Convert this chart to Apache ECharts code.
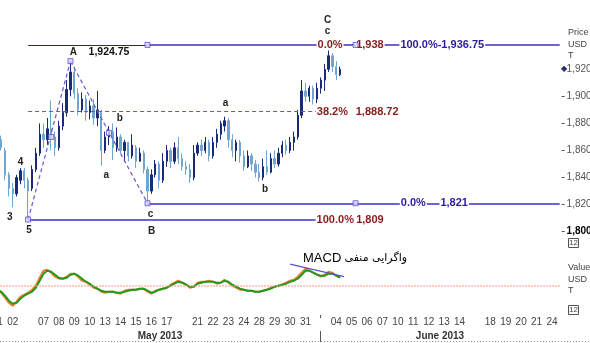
<!DOCTYPE html>
<html><head><meta charset="utf-8">
<script src="https://cdn.jsdelivr.net/npm/echarts@6/dist/echarts.min.js"></script>
<style>html,body{margin:0;padding:0;background:#fff}#c{width:590px;height:343px}</style>
</head><body><div id="c"></div>
<script>
// ---- data ----
const dayLabels = ['01','02','','07','08','09','10','13','14','15','16','17','','21','22','23','24','28','29','30','31','','04','05','06','07','10','11','12','13','14','','18','19','20','21','24'];
// [open, close, low, high]
const ohlc = [
[1871,1868,1866,1873],[1868,1862,1860,1871],[1860,1842,1838,1862],[1842,1832,1826,1844],
[1832,1828,1818,1836],[1828,1840,1826,1842],[1838,1845,1835,1847],[1845,1838,1832,1847],
[1838,1830,1809,1840],[1832,1846,1830,1849],[1846,1858,1844,1862],[1858,1872,1856,1880],
[1872,1868,1862,1880],[1868,1876,1864,1884],[1876,1870,1860,1897],[1870,1862,1856,1874],
[1862,1878,1860,1882],[1878,1888,1875,1895],[1888,1905,1885,1912],[1905,1918,1900,1926],
[1918,1902,1898,1922],[1902,1890,1886,1906],[1890,1898,1888,1903],[1898,1888,1882,1901],
[1888,1893,1883,1897],[1893,1884,1879,1898],[1884,1890,1878,1904],[1888,1860,1849,1890],
[1860,1870,1858,1874],[1870,1874,1864,1878],[1874,1862,1853,1880],[1862,1870,1859,1877],
[1870,1860,1858,1872],[1860,1866,1852,1868],[1866,1856,1852,1866],[1856,1864,1854,1872],
[1862,1852,1847,1864],[1852,1858,1852,1862],[1858,1846,1843,1860],[1846,1830,1821,1848],
[1830,1842,1828,1846],[1842,1850,1840,1853],[1850,1838,1832,1852],[1838,1852,1836,1858],
[1852,1860,1848,1864],[1860,1852,1847,1862],[1852,1862,1850,1866],[1862,1854,1850,1870],
[1854,1848,1845,1858],[1848,1846,1842,1852],[1846,1840,1836,1850],[1840,1858,1838,1864],
[1858,1864,1856,1866],[1864,1860,1856,1868],[1860,1866,1858,1870],[1866,1856,1852,1868],
[1856,1866,1854,1870],[1866,1872,1862,1876],[1872,1880,1868,1882],[1878,1882,1874,1885],
[1882,1868,1862,1884],[1868,1860,1855,1872],[1860,1866,1852,1868],[1866,1856,1851,1868],
[1856,1848,1845,1860],[1848,1856,1847,1860],[1856,1850,1845,1858],[1850,1844,1840,1853],
[1844,1840,1837,1850],[1840,1848,1838,1854],[1848,1844,1842,1860],[1844,1854,1843,1858],
[1854,1850,1847,1860],[1850,1858,1848,1862],[1858,1864,1855,1867],[1864,1860,1857,1868],
[1860,1866,1858,1870],[1866,1870,1860,1874],[1870,1886,1868,1890],[1886,1904,1884,1912],
[1904,1900,1896,1910],[1900,1906,1896,1908],[1906,1898,1894,1908],[1898,1906,1895,1910],
[1906,1912,1902,1914],[1912,1920,1904,1924],[1920,1930,1918,1935],[1930,1922,1918,1932],
[1922,1916,1912,1926],[1916,1920,1915,1922]
];
const macd = [-5,-7,-12,-17,-20,-16,-11,-9,-7,-4,0,8,15,16,13,9,7,7,9,12,12,9,5,4,1,-2,-3,-6,-7,-6,-6,-7,-8,-5,-4,-4,-4,-3,-3,-6,-8,-5,-4,-3,-2,1,3,5,3,1,-2,-1,3,4,4,5,4,2,3,6,3,0,-2,-4,-4,-5,-5,-6,-6,-5,-4,-2,-1,0,1,3,5,6,9,13,17,15,13,11,9,11,14,13,10,8];
const signal = [-4,-6,-10,-15,-18,-17,-13,-10,-8,-6,-2,5,12,15,14,11,8,7,8,11,12,10,7,4,2,-1,-3,-5,-6,-6,-6,-7,-7,-6,-5,-4,-4,-3,-3,-5,-7,-6,-4,-3,-2,0,2,4,3,1,-1,-1,2,3,4,4,4,3,3,5,4,1,-1,-3,-4,-5,-5,-6,-6,-5,-4,-3,-1,0,1,2,4,5,7,11,15,15,13,11,10,10,12,12,10,8];
const priceTicks = [1800,1820,1840,1860,1880,1900,1920];
const fibTop = 1938, fib382 = 1888.72, fibC = 1821, fib5 = 1809, peakA = 1926;
const handleData = [[8,1809],[14,1870],[19,1926],[29,1873],[39,1821],[39,1938],[93,1938],[93,1821]];
const divergence = [[76,21.5],[90,9]];

// ---- build ----
const N = 147;
const categories = [];
for (let i = 0; i < N; i++) categories.push(i % 4 === 0 ? (dayLabels[i / 4] || '') : '');
const FONT = 'Liberation Sans, Arial, sans-serif';
const fmt = v => v.toLocaleString('en-US');
const PURPLE = '#6d62d6', DRED = '#8b1a1a', DBLUE = '#2a1ca0';

function seg(a, b, style) { return [{coord: a, lineStyle: style}, {coord: b}]; }
function txt(name, coord, off, color, extra) {
  return {name, coord, label: Object.assign({offset: off, color, fontSize: 11, fontWeight: 'bold', fontFamily: FONT}, extra || {})};
}
const solid2 = {color: PURPLE, width: 2, type: 'solid'};
const dashed = {color: '#6458d8', width: 1.2, type: [4, 3]};

const markLines = [
  seg([8, fibTop], [39, fibTop], {color: '#2a2a60', width: 1, type: 'solid'}),
  seg([39, fibTop], [146, fibTop], solid2),
  seg([8, fib382], [83, fib382], dashed),
  seg([39, fibC], [146, fibC], solid2),
  seg([8, fib5], [83, fib5], solid2),
  seg([8, fib5], [19, peakA], dashed),
  seg([19, peakA], [39, fibC], dashed)
];
const bg = {backgroundColor: '#fff', padding: [0, 1]};
const markPoints = [
  txt('1,924.75', [29, fibTop], [0, 7], '#111', {fontSize: 10.5}),
  txt('0.0%', [86, fibTop], [1.5, 0], DRED, bg),
  txt('1,938', [97, fibTop], [-1, 0], DRED, bg),
  txt('100.0%-1,936.75', [115, fibTop], [2, 0], DBLUE, bg),
  txt('38.2%', [87, fib382], [0, 0], DRED, bg),
  txt('1,888.72', [99, fib382], [-1.5, 0], DRED, bg),
  txt('0.0%', [108, fibC], [0, 0], DBLUE, bg),
  txt('1,821', [119, fibC], [-1.5, 0], DBLUE, bg),
  txt('100.0%', [88, fib5], [-1, 0], DRED, bg),
  txt('1,809', [97, fib5], [-1, 0], DRED, bg),
  txt('3', [4, ohlc[4][2]], [-3, 10], '#222', {fontSize: 10}),
  txt('4', [6, ohlc[6][3]], [0, -6], '#222', {fontSize: 10}),
  txt('5', [8, ohlc[8][2]], [1, 11], '#222', {fontSize: 10}),
  txt('A', [19, ohlc[19][3]], [3, -9], '#222', {fontSize: 10}),
  txt('a', [27, ohlc[27][2]], [5, 10], '#222', {fontSize: 10}),
  txt('b', [31, ohlc[31][3]], [3, -9], '#222', {fontSize: 10}),
  txt('c', [39, ohlc[39][2]], [3, 11], '#222', {fontSize: 10}),
  txt('B', [39, ohlc[39][2]], [4, 28], '#222', {fontSize: 10}),
  txt('a', [59, ohlc[59][3]], [1, -13], '#222', {fontSize: 10}),
  txt('b', [69, ohlc[69][2]], [2, 9], '#222', {fontSize: 10}),
  txt('C', [86, ohlc[86][3]], [-1, -29], '#222', {fontSize: 10}),
  txt('c', [86, ohlc[86][3]], [-1, -18], '#222', {fontSize: 10})
];

const chart = echarts.init(document.getElementById('c'));
const gridBase = {left: -4.63, width: N * 3.852, containLabel: false, outerBoundsMode: 'none'};
chart.setOption({
  animation: false,
  backgroundColor: '#fff',
  grid: [
    Object.assign({top: 1.6, height: 230.1}, gridBase),
    Object.assign({top: 249.7, height: 62}, gridBase)
  ],
  xAxis: [
    {type: 'category', gridIndex: 0, data: categories, boundaryGap: true,
     axisLine: {show: false}, axisTick: {show: false}, axisLabel: {show: false}, splitLine: {show: false}},
    {type: 'category', gridIndex: 1, data: categories, boundaryGap: true,
     axisLine: {show: false}, axisTick: {show: false}, splitLine: {show: false},
     axisLabel: {interval: 0, fontSize: 10, color: '#444', margin: 6, fontFamily: FONT}}
  ],
  yAxis: [
    {type: 'value', gridIndex: 0, position: 'right', min: 1800, max: 1970, interval: 20,
     splitLine: {show: false}, axisLine: {show: false},
     axisTick: {show: true, length: 3, customValues: priceTicks, lineStyle: {color: '#555'}},
     axisLabel: {customValues: priceTicks, margin: 5, fontSize: 10, color: '#555', fontFamily: FONT,
       formatter: v => v === 1800 ? '{b|' + fmt(v) + '}' : fmt(v),
       rich: {b: {fontWeight: 'bold', color: '#000', fontSize: 10, fontFamily: FONT}}}},
    {type: 'value', gridIndex: 1, position: 'right', min: -26, max: 36,
     show: false, splitLine: {show: false}}
  ],
  series: [
    {type: 'candlestick', name: 'Price', xAxisIndex: 0, yAxisIndex: 0, data: ohlc, barWidth: 1.8,
     itemStyle: {color: '#1b2a78', color0: '#6fa6cf', borderColor: '#1b2a78', borderColor0: '#6fa6cf', borderWidth: 1},
     markLine: {silent: true, symbol: ['none', 'none'], label: {show: false}, data: markLines},
     markPoint: {silent: true, symbol: 'rect', symbolSize: 1, itemStyle: {color: 'rgba(0,0,0,0)'},
       label: {show: true, position: 'inside', formatter: p => p.name}, data: markPoints}},
    {type: 'scatter', name: 'handles', xAxisIndex: 0, yAxisIndex: 0, data: handleData, symbol: 'rect', symbolSize: 5,
     itemStyle: {color: '#dcd7f6', borderColor: '#5a4fc8', borderWidth: 1}, z: 5},
    {type: 'line', name: 'MACD', xAxisIndex: 1, yAxisIndex: 1, data: macd, showSymbol: false,
     lineStyle: {color: '#ff7a2e', width: 2}, itemStyle: {color: '#ff7a2e'},
     markLine: {silent: true, symbol: ['none', 'none'], label: {show: false},
       data: [[{coord: [0, 0], lineStyle: {color: '#f6a08c', width: 1.5, type: 'dotted'}}, {coord: [146, 0]}]]}},
    {type: 'line', name: 'Signal', xAxisIndex: 1, yAxisIndex: 1, data: signal, showSymbol: false,
     lineStyle: {color: '#1e9a1e', width: 2}, itemStyle: {color: '#1e9a1e'},
     markLine: {silent: true, symbol: ['none', 'none'], label: {show: false},
       data: [[{coord: divergence[0], lineStyle: {color: '#5a50d0', width: 1.2, type: 'solid'}}, {coord: divergence[1]}]]}}
  ]
});

const lastClose = ohlc[ohlc.length - 1][1];
const yLast = chart.convertToPixel({yAxisIndex: 0}, lastClose);
const sm = (t, x, y, extra) => ({type: 'text', x, y, silent: true,
  style: Object.assign({text: t, fill: '#444', font: '9px ' + FONT, textVerticalAlign: 'middle'}, extra || {})});
chart.setOption({
  graphic: [
    sm('◆', 561, yLast, {fill: '#1b2a78', font: '8px DejaVu Sans'}),
    sm('Price', 568, 33), sm('USD', 568, 45), sm('T', 568, 56),
    {type: 'rect', shape: {x: 568.5, y: 238.5, width: 10, height: 9}, style: {fill: 'none', stroke: '#555', lineWidth: 1}},
    sm('12', 573.5, 243, {textAlign: 'center', font: '8px ' + FONT}),
    sm('Value', 568, 268), sm('USD', 568, 280), sm('T', 568, 291),
    {type: 'rect', shape: {x: 568.5, y: 305.5, width: 10, height: 9}, style: {fill: 'none', stroke: '#555', lineWidth: 1}},
    sm('12', 573.5, 310, {textAlign: 'center', font: '8px ' + FONT}),
    {type: 'text', x: 303, y: 258, silent: true, style: {
      text: '{m|MACD} {p|واگرایی منفی}', textVerticalAlign: 'middle',
      rich: {m: {fontSize: 13, fontFamily: 'Liberation Sans', fill: '#000'},
             p: {fontSize: 11, fontFamily: 'DejaVu Sans', fill: '#000'}}}},
    sm('May 2013', 160, 336, {textAlign: 'center', fill: '#333', font: 'bold 10px ' + FONT}),
    sm('June 2013', 440, 336, {textAlign: 'center', fill: '#333', font: 'bold 10px ' + FONT}),
    {type: 'line', shape: {x1: 0, y1: 341.5, x2: 590, y2: 341.5}, style: {stroke: '#999', lineWidth: 1, lineDash: [1, 2]}},
    {type: 'line', shape: {x1: 320.5, y1: 315, x2: 320.5, y2: 318}, style: {stroke: '#555', lineWidth: 1}},
    {type: 'line', shape: {x1: 320.5, y1: 331, x2: 320.5, y2: 342}, style: {stroke: '#555', lineWidth: 1}}
  ]
});
</script></body></html>
